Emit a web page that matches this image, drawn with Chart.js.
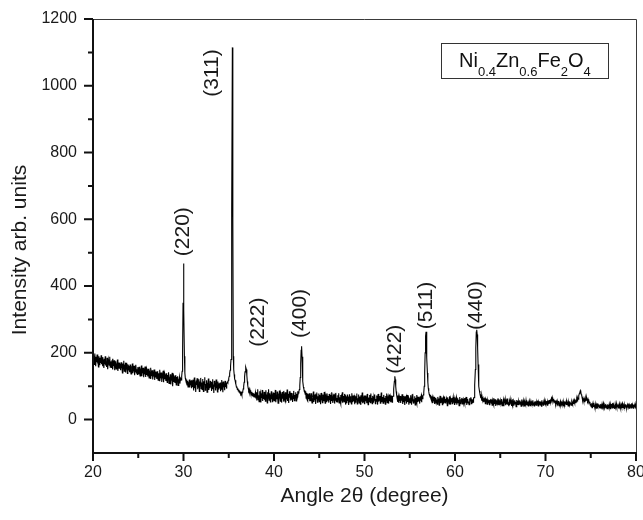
<!DOCTYPE html>
<html>
<head>
<meta charset="utf-8">
<script src="https://cdn.jsdelivr.net/npm/chart.js@4.4.0/dist/chart.umd.min.js"></script>
<style>
  html, body { margin: 0; padding: 0; background: #fff; }
  #wrap { width: 643px; height: 520px; }
</style>
</head>
<body>
<div id="wrap"><canvas id="c" width="643" height="520"></canvas></div>
<script>
// Scan grid: each row below starts at a whole degree (2θ) and holds readings every 0.05°
const scanStart = 20;
const scanStep = 0.05;

// Intensity, one row per degree of 2θ
const intensityRows = [
  [192,170,186,165,198,175,160,188,172,195,168,181,158,190,176,163,185,170,193,166], // 20
  [178,160,187,171,155,182,166,190,162,174,158,185,169,151,180,172,163,188,157,170], // 21
  [173,155,166,182,150,170,161,178,148,165,175,152,168,158,180,146,163,171,154,167], // 22
  [165,148,172,155,162,140,168,152,176,145,158,163,141,170,150,157,138,166,149,160], // 23
  [158,142,165,147,137,160,150,168,139,155,144,161,133,152,146,164,140,151,135,157], // 24
  [150,136,158,141,131,153,145,162,130,148,139,155,127,146,142,159,128,144,135,151], // 25
  [146,129,152,136,125,143,138,155,122,140,131,148,120,137,134,150,119,139,128,144], // 26
  [137,122,145,130,118,139,126,149,115,133,124,141,113,131,128,146,112,135,121,138], // 27
  [130,116,139,122,111,134,119,142,108,127,118,136,105,124,121,140,100,128,113,131], // 28
  [125,110,133,116,104,128,113,130,102,121,112,127,108,118,122,119,130,145,205,350], // 29
  [468,330,190,140,124,118,112,120,104,116,98,112,105,120,96,110,103,118,94,108],     // 30
  [98,119,87,110,126,94,112,83,117,104,124,91,108,97,121,84,114,101,125,93],          // 31
  [111,90,122,99,84,115,105,127,88,107,97,118,82,110,101,123,89,106,94,116],          // 32
  [96,113,86,108,121,91,105,80,116,99,110,87,120,95,104,83,114,100,90,109],           // 33
  [94,111,85,106,119,90,102,82,114,97,108,88,116,98,106,93,108,112,110,118],          // 34
  [124,130,138,148,160,180,240,620,1115,600,190,150,135,122,118,106,108,97,99,90],    // 35
  [94,86,90,82,87,79,84,76,80,74,82,85,92,100,112,128,143,152,157,150],               // 36
  [132,114,102,94,88,92,82,88,78,86,74,83,72,80,70,79,68,77,71,82],                   // 37
  [63,82,57,77,91,60,73,54,85,68,79,51,76,65,89,56,74,62,83,59],                      // 38
  [78,55,88,67,75,50,82,64,91,58,72,79,53,68,85,61,76,52,81,65],                      // 39
  [57,80,64,89,52,74,61,84,69,49,78,60,87,66,55,77,71,51,83,63],                      // 40
  [76,54,86,65,59,82,51,73,68,90,56,77,62,50,85,66,74,57,80,60],                      // 41
  [71,53,79,62,86,57,74,65,82,56,77,68,85,71,80,84,90,102,126,168],                   // 42
  [208,220,188,145,115,98,92,84,88,76,85,64,80,60,78,56,76,62,79,55],                 // 43
  [73,55,79,61,50,72,66,84,53,75,58,67,47,76,62,81,52,70,59,78],                      // 44
  [54,74,61,46,80,58,69,51,75,65,55,83,60,49,72,66,78,52,68,57],                      // 45
  [71,51,77,59,67,47,74,56,82,62,50,70,64,76,48,68,57,80,54,65],                      // 46
  [53,73,60,79,50,67,56,74,47,68,62,82,51,64,71,54,77,59,45,70],                      // 47
  [66,49,75,56,69,44,63,76,53,70,58,47,79,61,52,72,55,66,46,73],                      // 48
  [52,70,61,78,47,64,56,75,50,69,59,46,73,55,66,81,49,63,58,72],                      // 49
  [63,46,72,55,68,49,77,58,45,66,54,74,62,51,78,57,65,48,71,60],                      // 50
  [51,69,57,75,48,62,55,72,65,45,77,54,66,58,71,49,63,81,52,60],                      // 51
  [68,49,60,74,54,65,46,71,57,78,51,62,69,48,58,75,55,66,52,72],                      // 52
  [60,52,69,70,76,92,115,130,120,100,84,74,64,72,53,68,50,66,56,71],                  // 53
  [50,68,57,76,47,64,54,71,61,44,70,56,65,48,74,53,62,67,45,59],                      // 54
  [64,51,73,56,45,67,59,77,50,61,54,70,44,65,57,74,48,62,53,68],                      // 55
  [55,66,48,70,57,67,52,71,63,72,74,82,100,140,200,250,263,235,185,140],              // 56
  [112,94,84,76,72,68,74,61,70,55,66,50,63,55,68,47,61,53,65,50],                     // 57
  [60,46,68,54,63,43,57,71,49,62,52,66,45,59,65,48,69,55,51,62],                      // 58
  [50,64,58,42,67,53,61,47,70,56,45,62,54,65,48,59,68,51,58,44],                      // 59
  [62,50,58,67,45,56,64,51,59,42,68,54,48,61,53,65,47,58,62,50],                      // 60
  [56,65,47,59,51,68,44,58,62,50,54,45,64,53,59,67,48,56,51,61],                      // 61
  [52,64,66,78,104,150,215,262,269,255,215,165,125,100,86,78,72,64,74,57],            // 62
  [67,59,64,52,62,55,66,48,59,54,63,46,57,51,60,55,45,59,52,62],                      // 63
  [49,60,43,57,52,64,44,55,47,61,41,54,58,46,63,50,57,43,54,49],                      // 64
  [57,45,54,62,42,51,48,59,40,56,49,60,43,53,46,63,45,54,49,40],                      // 65
  [53,44,59,48,56,41,52,61,45,55,42,50,58,47,53,39,59,48,52,44],                      // 66
  [55,43,51,58,46,54,40,52,60,47,44,57,49,41,55,51,46,58,43,52],                      // 67
  [44,54,41,51,57,46,49,40,55,47,52,43,58,46,51,41,54,44,49,55],                      // 68
  [43,52,47,57,41,51,46,55,44,54,49,40,58,47,52,43,51,46,55,49],                      // 69
  [44,54,47,56,43,53,48,58,49,59,51,61,54,63,57,66,60,56,62,52],                      // 70
  [58,51,57,46,55,50,44,53,48,56,42,51,47,55,44,50,45,53,48,42],                      // 71
  [52,46,55,43,50,48,56,44,53,49,41,52,46,55,44,50,48,43,54,49],                      // 72
  [45,54,47,56,49,57,51,60,53,62,56,65,61,70,72,79,82,87,83,75],                      // 73
  [73,65,58,64,55,62,54,61,57,64,58,66,60,56,61,53,58,50,53,46],                      // 74
  [46,39,49,36,44,50,38,46,41,35,47,39,44,33,43,49,38,41,46,36],                      // 75
  [43,35,47,39,36,46,33,41,49,38,44,35,39,47,36,43,33,46,38,41],                      // 76
  [36,46,39,33,44,38,47,35,41,50,36,43,39,32,46,38,43,35,47,39],                      // 77
  [45,35,42,48,37,40,34,46,38,43,49,35,42,37,45,32,40,46,38,43],                      // 78
  [35,45,40,37,48,34,42,38,46,35,43,49,37,40,34,45,38,42,48,37],                      // 79
  [40]                                                                                 // 80
];

// Axis ticks
const xMajorTicks = [20, 30, 40, 50, 60, 70, 80];
const xMinorTicks = [25, 35, 45, 55, 65, 75];
const yMajorTicks = [0, 200, 400, 600, 800, 1000, 1200];
const yMinorTicks = [100, 300, 500, 700, 900, 1100];

// Peak (hkl) labels: text, 2θ of label centre, intensity of label centre
const peakLabels = ['(220)', '(311)', '(222)', '(400)', '(422)', '(511)', '(440)'];
const peakLabelX = [30.0, 33.15, 38.2, 42.85, 53.35, 56.85, 62.3];
const peakLabelY = [563, 1038, 292, 318, 211, 342, 342];

// Sample name (text pieces, subscript flag) and its box corners in data units
const sampleParts = [['Ni', false], ['0.4', true], ['Zn', false], ['0.6', true], ['Fe', false], ['2', true], ['O', false], ['4', true]];
const sampleBox = { x0: 58.5, x1: 76.95, y0: 1128, y1: 1022 };

// Axis titles
const xTitle = 'Angle 2θ (degree)';
const yTitle = 'Intensity arb. units';

const points = [];
intensityRows.forEach((row, r) => {
  row.forEach((v, j) => points.push({ x: +(scanStart + r + j * scanStep).toFixed(2), y: v }));
});

const FONT = '"Liberation Sans", Arial, Helvetica, sans-serif';

const decorPlugin = {
  id: 'decor',
  afterDatasetsDraw(chart) {
    const { ctx, chartArea: a, scales: { x, y } } = chart;
    ctx.save();
    // frame: thin top/right, thick left/bottom
    ctx.strokeStyle = '#3a3a3a';
    ctx.lineWidth = 1;
    ctx.beginPath();
    ctx.moveTo(a.left, a.top + 0.5); ctx.lineTo(a.right + 0.5, a.top + 0.5);
    ctx.lineTo(a.right + 0.5, a.bottom);
    ctx.stroke();
    ctx.strokeStyle = '#111';
    ctx.lineWidth = 2;
    ctx.beginPath();
    ctx.moveTo(a.left, a.top); ctx.lineTo(a.left, a.bottom + 1);
    ctx.moveTo(a.left - 1, a.bottom); ctx.lineTo(a.right + 1, a.bottom);
    ctx.stroke();
    // tick marks
    ctx.beginPath();
    xMajorTicks.forEach(v => { const px = x.getPixelForValue(v); ctx.moveTo(px, a.bottom); ctx.lineTo(px, a.bottom + 8); });
    xMinorTicks.forEach(v => { const px = x.getPixelForValue(v); ctx.moveTo(px, a.bottom); ctx.lineTo(px, a.bottom + 5); });
    yMajorTicks.forEach(v => { const py = y.getPixelForValue(v); ctx.moveTo(a.left, py); ctx.lineTo(a.left - 9, py); });
    yMinorTicks.forEach(v => { const py = y.getPixelForValue(v); ctx.moveTo(a.left, py); ctx.lineTo(a.left - 5, py); });
    ctx.stroke();
    // y axis title
    ctx.fillStyle = '#1a1a1a';
    ctx.font = '21px ' + FONT;
    ctx.textAlign = 'center';
    ctx.textBaseline = 'middle';
    ctx.save();
    ctx.translate(20, (a.top + a.bottom) / 2 + 14);
    ctx.rotate(-Math.PI / 2);
    ctx.fillText(yTitle, 0, 0);
    ctx.restore();
    // peak labels
    peakLabels.forEach((t, i) => {
      ctx.save();
      ctx.translate(x.getPixelForValue(peakLabelX[i]), y.getPixelForValue(peakLabelY[i]));
      ctx.rotate(-Math.PI / 2);
      ctx.fillText(t, 0, 0);
      ctx.restore();
    });
    // sample box
    const bx0 = x.getPixelForValue(sampleBox.x0), bx1 = x.getPixelForValue(sampleBox.x1);
    const by0 = y.getPixelForValue(sampleBox.y0), by1 = y.getPixelForValue(sampleBox.y1);
    ctx.fillStyle = '#fff';
    ctx.fillRect(bx0, by0, bx1 - bx0, by1 - by0);
    ctx.strokeStyle = '#333';
    ctx.lineWidth = 1;
    ctx.strokeRect(Math.round(bx0) + 0.5, Math.round(by0) + 0.5, Math.round(bx1 - bx0), Math.round(by1 - by0));
    const mainFont = '20px ' + FONT, subFont = '13px ' + FONT;
    let total = 0;
    sampleParts.forEach(([t, sub]) => { ctx.font = sub ? subFont : mainFont; total += ctx.measureText(t).width; });
    let cx = (bx0 + bx1) / 2 - total / 2;
    const base = (by0 + by1) / 2 + 6;
    ctx.textAlign = 'left';
    ctx.textBaseline = 'alphabetic';
    ctx.fillStyle = '#111';
    sampleParts.forEach(([t, sub]) => {
      ctx.font = sub ? subFont : mainFont;
      ctx.fillText(t, cx, sub ? base + 9 : base);
      cx += ctx.measureText(t).width;
    });
    ctx.restore();
  }
};

new Chart(document.getElementById('c'), {
  type: 'line',
  data: {
    datasets: [{
      data: points,
      borderColor: '#000',
      borderWidth: 1.1,
      pointRadius: 0,
      fill: false,
      tension: 0
    }]
  },
  options: {
    responsive: false,
    animation: false,
    devicePixelRatio: 1,
    parsing: false,
    layout: { autoPadding: false, padding: { left: 0, right: 7, top: 19, bottom: 0 } },
    plugins: { legend: { display: false }, tooltip: { enabled: false } },
    scales: {
      x: {
        type: 'linear',
        min: 20, max: 80,
        afterFit: s => { s.height = 67; s.paddingLeft = 0; s.paddingRight = 0; s.paddingTop = 0; s.paddingBottom = 0; },
        afterBuildTicks: s => { s.ticks = xMajorTicks.map(v => ({ value: v })); },
        grid: { display: false, drawTicks: false },
        border: { display: false },
        ticks: { padding: 10, color: '#1a1a1a', font: { family: FONT, size: 16 }, maxRotation: 0, callback: v => String(v) },
        title: { display: true, text: xTitle, color: '#1a1a1a', font: { family: FONT, size: 21 }, padding: { top: 0, bottom: 11 } }
      },
      y: {
        type: 'linear',
        min: -100, max: 1200,
        afterFit: s => { s.width = 93; s.paddingLeft = 0; s.paddingRight = 0; s.paddingTop = 0; s.paddingBottom = 0; },
        afterBuildTicks: s => { s.ticks = yMajorTicks.map(v => ({ value: v })); },
        grid: { display: false, drawTicks: false },
        border: { display: false },
        ticks: { padding: 16, color: '#1a1a1a', font: { family: FONT, size: 16 }, callback: v => String(v) },
        title: { display: false }
      }
    }
  },
  plugins: [decorPlugin]
});
</script>
</body>
</html>
